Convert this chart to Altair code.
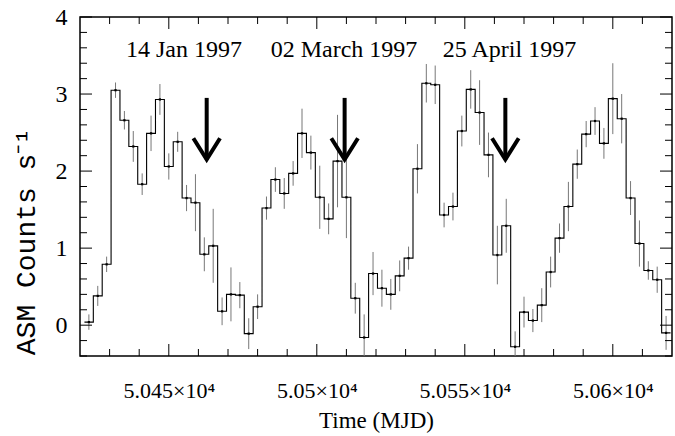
import altair as alt
import pandas as pd

# ---- data ----
bin_start_mjd = 50423
bin_width_days = 3
counts = [0.04, 0.38, 0.79, 3.05, 2.66, 2.32, 1.83, 2.49, 2.93, 2.06,
          2.38, 1.65, 1.59, 0.92, 1.03, 0.18, 0.40, 0.39, -0.11, 0.24,
          1.52, 1.89, 1.71, 1.97, 2.49, 2.24, 1.66, 1.38, 2.13, 1.66,
          0.35, -0.16, 0.67, 0.48, 0.40, 0.64, 0.87, 2.03, 3.14, 3.12,
          1.43, 1.54, 2.52, 3.06, 2.76, 2.21, 0.91, 1.29, -0.28, 0.17,
          0.06, 0.26, 0.69, 1.13, 1.54, 2.09, 2.48, 2.65, 2.36, 2.94,
          2.68, 1.65, 1.06, 0.71, 0.59, -0.10]
errors = [0.10, 0.13, 0.10, 0.10, 0.12, 0.20, 0.14, 0.23, 0.20, 0.17,
          0.13, 0.17, 0.37, 0.22, 0.48, 0.18, 0.35, 0.17, 0.20, 0.16,
          0.15, 0.16, 0.20, 0.16, 0.32, 0.22, 0.41, 0.20, 0.60, 0.53,
          0.20, 0.30, 0.28, 0.24, 0.20, 0.20, 0.15, 0.32, 0.25, 0.25,
          0.16, 0.18, 0.20, 0.25, 0.42, 0.29, 0.38, 0.35, 0.20, 0.20,
          0.15, 0.22, 0.20, 0.19, 0.32, 0.19, 0.17, 0.18, 0.20, 0.46,
          0.32, 0.22, 0.30, 0.12, 0.17, 0.22]
mjd = [bin_start_mjd + bin_width_days * i for i in range(len(counts))]

event_labels = ["14 Jan 1997", "02 March 1997", "25 April 1997"]
event_label_mjd = [50455.1, 50509.2, 50565.1]
event_label_y = [3.48, 3.48, 3.48]
arrow_mjd = [50462.8, 50509.4, 50563.7]
arrow_top = [2.95, 2.95, 2.95]
arrow_tip = [2.15, 2.15, 2.15]

x_major = [50450, 50500, 50550, 50600]
x_minor = [50430, 50440, 50460, 50470, 50480, 50490, 50510, 50520, 50530,
           50540, 50560, 50570, 50580, 50590, 50610]
y_major = [0, 1, 2, 3, 4]
y_minor = [-0.4, -0.2, 0.2, 0.4, 0.6, 0.8, 1.2, 1.4, 1.6, 1.8, 2.2, 2.4,
           2.6, 2.8, 3.2, 3.4, 3.6, 3.8]

X_DOMAIN = [50420, 50620]
Y_DOMAIN = [-0.4, 4]
W, H = 592, 339

xs = alt.Scale(domain=X_DOMAIN, nice=False, zero=False)
ys = alt.Scale(domain=Y_DOMAIN, nice=False, zero=False)

serif = "Liberation Serif"

X_AXIS = alt.Axis(
    values=x_major, ticks=False, tickSize=0, domain=False, grid=False,
    labelExpr="format(datum.value/10000, '.4~f') + '×10⁴'",
    labelFont=serif, labelFontSize=22, labelColor="black",
    labelBaseline="alphabetic", labelPadding=41, labelFlush=False,
    title="Time (MJD)", titleFont=serif, titleFontSize=23,
    titleFontWeight="normal", titleColor="black",
    titleBaseline="alphabetic", titleY=71,
)
Y_AXIS = alt.Axis(
    values=y_major, ticks=False, tickSize=0, domain=False, grid=False,
    labelFont=serif, labelFontSize=24, labelColor="black",
    labelPadding=13, labelBaseline="middle", labelFlush=False,
    title="ASM Counts s⁻¹", titleFont="Liberation Mono", titleFontSize=28,
    titleFontWeight="normal", titleColor="black", titleAngle=270,
    titleAlign="center", titleBaseline="middle", titleX=-54, titleY=224,
)


def X(field):
    return alt.X(field, scale=xs, axis=X_AXIS)


def Y(field):
    return alt.Y(field, scale=ys, axis=Y_AXIS)


pts = pd.DataFrame({"mjd": mjd, "rate": counts, "err": errors})
pts["lo"] = pts["rate"] - pts["err"]
pts["hi"] = pts["rate"] + pts["err"]

half = bin_width_days / 2
step_df = pd.DataFrame({
    "mjd": [m - half for m in mjd] + [mjd[-1] + half],
    "rate": counts + [counts[-1]],
})

errbars = alt.Chart(pts).mark_rule(color="#777777", strokeWidth=1, clip=True).encode(
    x=X("mjd:Q"), y=Y("lo:Q"), y2="hi:Q",
)

steps = alt.Chart(step_df).mark_line(
    interpolate="step-after", color="black", strokeWidth=1.1, clip=True
).encode(x=X("mjd:Q"), y=Y("rate:Q"))

dots = alt.Chart(pts).mark_square(size=5, color="black", opacity=1, clip=True).encode(
    x=X("mjd:Q"), y=Y("rate:Q"),
)

arr = pd.DataFrame({"mjd": arrow_mjd, "top": arrow_top, "tip": arrow_tip})
shafts = alt.Chart(arr).mark_rule(color="black", strokeWidth=4).encode(
    x=X("mjd:Q"), y=Y("top:Q"), y2="tip:Q",
)
heads = alt.Chart(arr).mark_point(
    shape="M -1 -1.6 L 0 0 L 1 -1.6", size=710, filled=False,
    strokeWidth=4, color="black", opacity=1, strokeJoin="miter",
).encode(x=X("mjd:Q"), y=Y("tip:Q"))

lab = pd.DataFrame({"mjd": event_label_mjd, "rate": event_label_y, "t": event_labels})
texts = alt.Chart(lab).mark_text(
    font=serif, fontSize=24, color="black", align="center", baseline="alphabetic"
).encode(x=X("mjd:Q"), y=Y("rate:Q"), text="t:N")


def xticks(vals, length):
    d = pd.DataFrame({"mjd": vals})
    bottom = alt.Chart(d).mark_rule(color="black", strokeWidth=1).encode(
        x=X("mjd:Q"), y=alt.value(H), y2=alt.value(H - length))
    top = alt.Chart(d).mark_rule(color="black", strokeWidth=1).encode(
        x=X("mjd:Q"), y=alt.value(0), y2=alt.value(length))
    return [bottom, top]


def yticks(vals, length):
    d = pd.DataFrame({"rate": vals})
    left = alt.Chart(d).mark_rule(color="black", strokeWidth=1).encode(
        y=Y("rate:Q"), x=alt.value(0), x2=alt.value(length))
    right = alt.Chart(d).mark_rule(color="black", strokeWidth=1).encode(
        y=Y("rate:Q"), x=alt.value(W), x2=alt.value(W - length))
    return [left, right]


tick_layers = xticks(x_major, 12) + xticks(x_minor, 7) + yticks(y_major, 12) + yticks(y_minor, 7)

chart = alt.layer(
    steps, errbars, dots, shafts, heads, texts, *tick_layers
).properties(
    width=W, height=H,
    autosize=alt.AutoSizeParams(type="none"),
    padding={"left": 80, "top": 17, "right": 3, "bottom": 80},
    background="white",
).configure_view(
    stroke="black", strokeWidth=1.5
)

chart.save("out.html", embed_options={"renderer": "svg", "actions": False})
